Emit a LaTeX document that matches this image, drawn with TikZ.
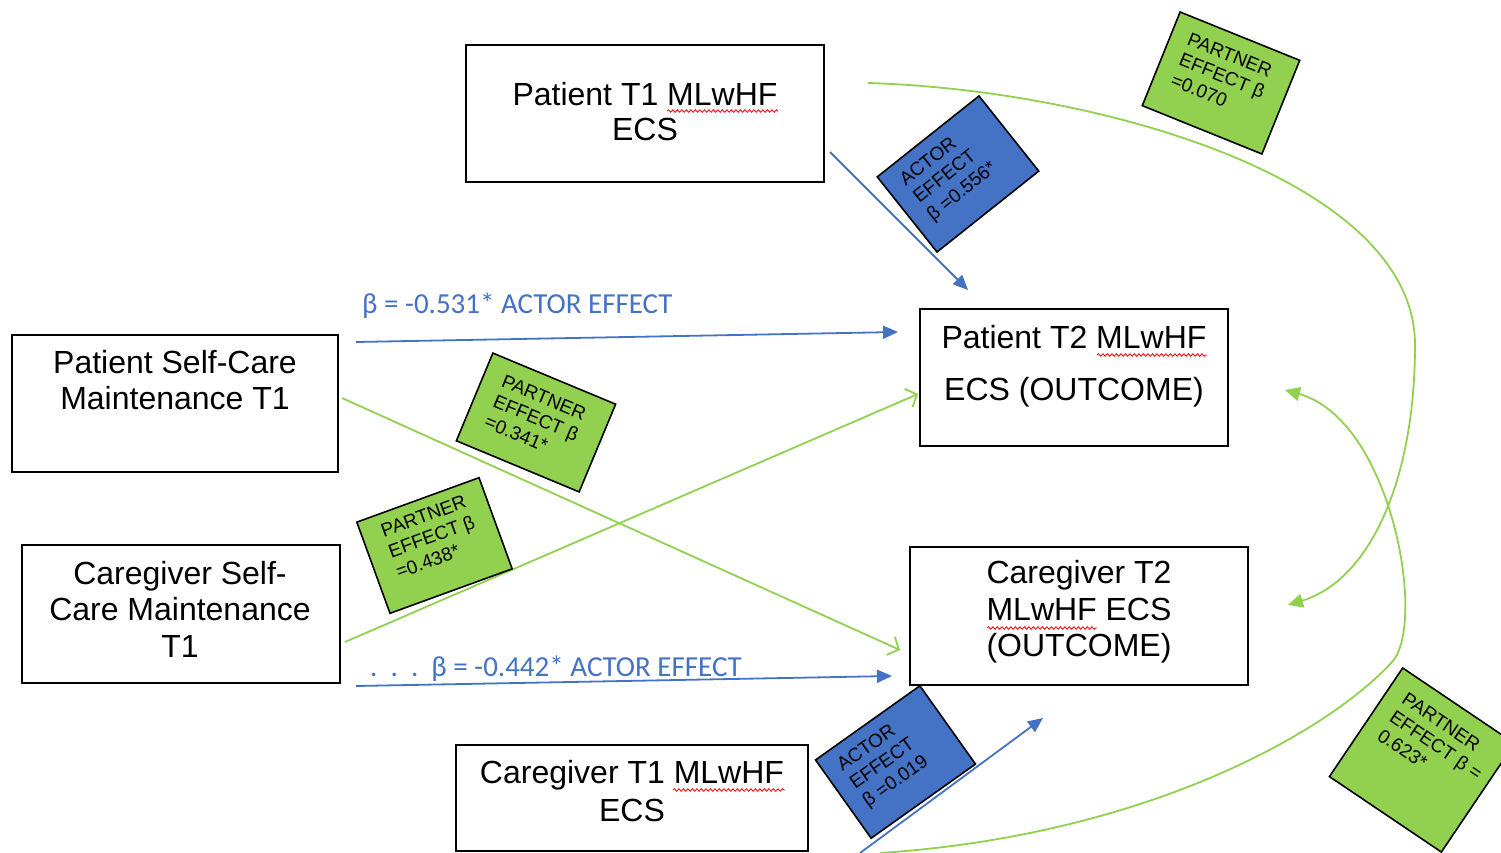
\documentclass[tikz,border=0pt]{standalone}
\usepackage{fontspec}
\setmainfont{Liberation Sans}
\newfontfamily\carlito{Carlito}
\usetikzlibrary{arrows.meta,decorations.pathmorphing,calc}
\definecolor{mblue}{HTML}{4472C4}
\definecolor{mgreen}{HTML}{92D050}
\begin{document}
\begin{tikzpicture}[x=1pt,y=-1pt,
  box/.style={draw=black,line width=1.6pt,fill=white,inner sep=0pt},
  boxtext/.style={align=center,font=\fontsize{32}{36}\selectfont,inner sep=0pt},
  gbox/.style={draw=black,line width=1.6pt,fill=mgreen,inner sep=0pt},
  bbox/.style={draw=black,line width=1.6pt,fill=mblue,inner sep=0pt},
  stext/.style={align=left,font=\fontsize{19}{22}\selectfont,inner sep=0pt,anchor=north west},
  blbl/.style={text=mblue,font=\carlito\fontsize{29}{33}\selectfont,inner sep=0pt,anchor=base west},
  barrow/.style={draw=mblue,line width=1.8pt,-{Triangle[length=15pt,width=13pt]}},
  garrow/.style={draw=mgreen,line width=1.8pt,-{Straight Barb[length=9pt,width=20pt]}},
  gcurve/.style={draw=mgreen,line width=1.8pt,-{Triangle[length=15pt,width=14pt]}},
  squig/.style={draw=red,line width=0.8pt,decorate,decoration={snake,amplitude=1.3pt,segment length=4.5pt}}
]
\useasboundingbox (0,0) rectangle (1501,853);
\clip (0,0) rectangle (1501,853);
\fill[white] (0,0) rectangle (1501,853);

% main boxes
\node[box,minimum width=358,minimum height=137] (pt1) at (645,113.5) {};
\node[box,minimum width=326,minimum height=137] (psc) at (175,403.5) {};
\node[box,minimum width=318,minimum height=138] (cgsc) at (181,614) {};
\node[box,minimum width=308,minimum height=137] (pt2) at (1074,377.5) {};
\node[box,minimum width=338,minimum height=138] (cgt2) at (1079,616) {};
\node[box,minimum width=352,minimum height=106] (cgt1) at (632,798) {};

\node[boxtext,font=\fontsize{32}{35}\selectfont] (pt1t) at (645,112) {Patient T1 MLwHF\\ECS};
\node[boxtext] (psct) at (175,380) {Patient Self-Care\\Maintenance T1};
\node[boxtext,font=\fontsize{32}{36.5}\selectfont] (cgsct) at (180,609) {Caregiver Self-\\Care Maintenance\\T1};
\node[boxtext,font=\fontsize{32}{52}\selectfont] (pt2t) at (1074,366) {Patient T2 MLwHF\\ECS (OUTCOME)};
\node[boxtext,font=\fontsize{32}{36.5}\selectfont] (cgt2t) at (1079,612) {Caregiver T2\\MLwHF ECS\\(OUTCOME)};
\node[boxtext,font=\fontsize{32}{38}\selectfont] (cgt1t) at (632,791) {Caregiver T1 MLwHF\\ECS};

% spell-check squiggles
\draw[squig] (667,111) -- (778,111);
\draw[squig] (1097,355) -- (1207,355);
\draw[squig] (987,628) -- (1097,628);
\draw[squig] (673,790) -- (785,790);

% connector end points
\coordinate (a1s) at (830,152);  \coordinate (a1e) at (968,290);
\coordinate (a2s) at (356,342);  \coordinate (a2e) at (898,332);
\coordinate (a3s) at (356,686);  \coordinate (a3e) at (892,676);
\coordinate (a4s) at (860,853);  \coordinate (a4e) at (1043,718);
\coordinate (g1s) at (342,398);  \coordinate (g1e) at (900,650);
\coordinate (g2s) at (345,642);  \coordinate (g2e) at (918,394);
\coordinate (g3s) at (868,83);   \coordinate (g3e) at (1288,605);
\coordinate (g4s) at (880,853);  \coordinate (g4e) at (1285,390);

% green connectors
\draw[garrow] (g1s) -- (g1e);
\draw[garrow] (g2s) -- (g2e);
\draw[gcurve] (g3s) .. controls (1100,90) and (1415,180) .. (1415,345)
  .. controls (1415,480) and (1370,580) .. (g3e);
\draw[gcurve] (g4s) .. controls (1150,835) and (1330,730) .. (1392,662)
  .. controls (1427,624) and (1392,420) .. (g4e);

% blue connectors
\draw[barrow] (a1s) -- (a1e);
\draw[barrow] (a2s) -- (a2e);
\draw[barrow] (a3s) -- (a3e);
\draw[barrow] (a4s) -- (a4e);

% blue labels
\node[blbl] (l1) at (362,313) {β = -0.531* ACTOR EFFECT};
\node[blbl] (l2) at (370,676) {.\ \ .\ \ .\ \ β = -0.442* ACTOR EFFECT};

% rotated effect boxes
\begin{scope}[shift={(1221,83)},rotate=-22,transform shape]
\node[gbox,minimum width=129,minimum height=101] (pa) at (0,0) {};
\node[stext] (pat) at (-47,-36) {PARTNER\\EFFECT β\\=0.070};
\end{scope}
\begin{scope}[shift={(958,174)},rotate=38.5,transform shape]
\node[bbox,minimum width=130,minimum height=96] (ab) at (0,0) {};
\node[stext] (abt) at (-49,-36) {ACTOR\\EFFECT\\β =0.556*};
\end{scope}
\begin{scope}[shift={(536,422.5)},rotate=-22.6,transform shape]
\node[gbox,minimum width=133,minimum height=95] (pc) at (0,0) {};
\node[stext] (pct) at (-47,-33) {PARTNER\\EFFECT β\\=0.341*};
\end{scope}
\begin{scope}[shift={(434.5,545.5)},rotate=20,transform shape]
\node[gbox,minimum width=130,minimum height=97] (pd) at (0,0) {};
\node[stext] (pdt) at (-45,-38) {PARTNER\\EFFECT β\\=0.438*};
\end{scope}
\begin{scope}[shift={(895.5,762)},rotate=35.4,transform shape]
\node[bbox,minimum width=128,minimum height=96] (ae) at (0,0) {};
\node[stext] (aet) at (-49,-36) {ACTOR\\EFFECT\\β =0.019};
\end{scope}
\begin{scope}[shift={(1422,760)},rotate=-34,transform shape]
\node[gbox,minimum width=135,minimum height=131] (pf) at (0,0) {};
\node[stext] (pft) at (-50,-49) {PARTNER\\EFFECT β =\\0.623*};
\end{scope}
\end{tikzpicture}
\end{document}
